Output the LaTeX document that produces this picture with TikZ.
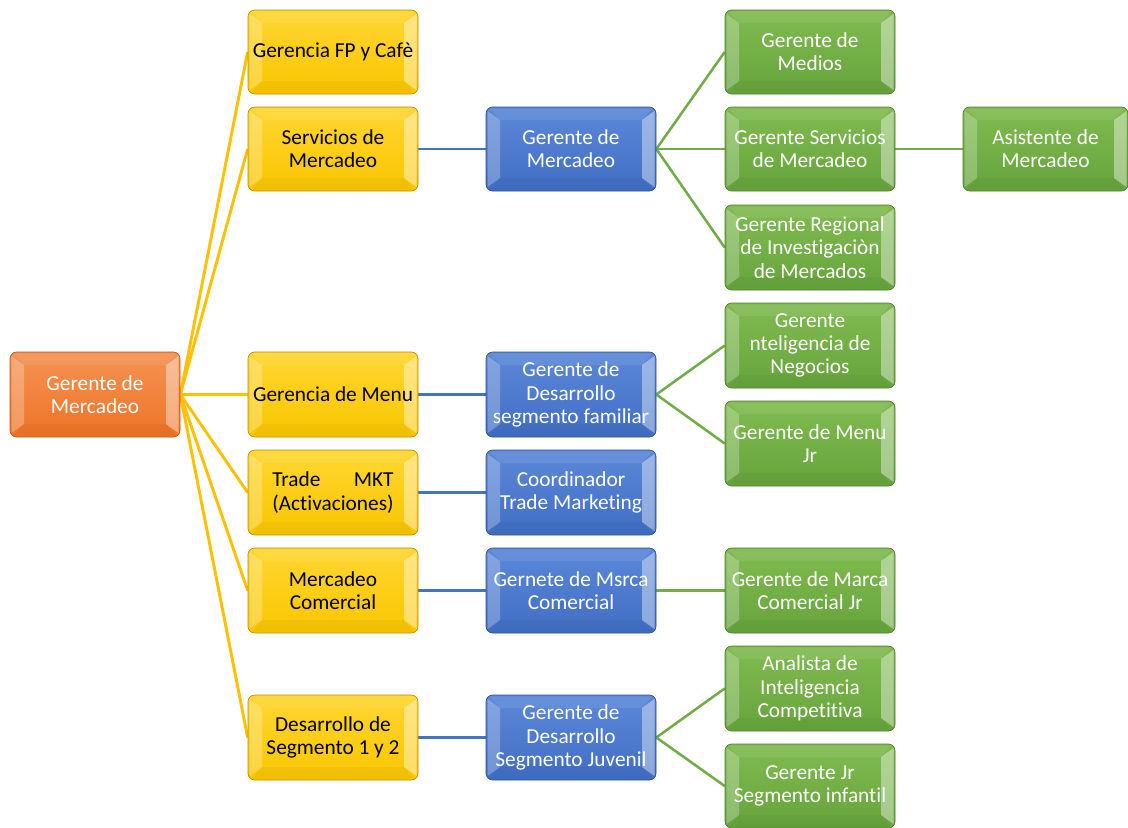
\documentclass[tikz,border=0pt]{standalone}
\usepackage{fontspec}
\usepackage{calc}
\setmainfont{Carlito}[Ligatures={CommonOff}]
\usetikzlibrary{backgrounds}
\definecolor{oTop}{RGB}{245,146,84}
\definecolor{oBot}{RGB}{238,116,38}
\definecolor{oDr}{RGB}{185,84,22}
\definecolor{yTop}{RGB}{255,214,50}
\definecolor{yBot}{RGB}{250,198,0}
\definecolor{yDr}{RGB}{185,140,0}
\definecolor{bTop}{RGB}{92,136,216}
\definecolor{bBot}{RGB}{64,110,196}
\definecolor{bDr}{RGB}{45,80,140}
\definecolor{gTop}{RGB}{128,187,80}
\definecolor{gBot}{RGB}{102,164,60}
\definecolor{gDr}{RGB}{78,122,48}
\definecolor{lnY}{RGB}{255,192,0}
\definecolor{lnB}{RGB}{68,114,196}
\definecolor{lnG}{RGB}{112,173,71}
\tikzset{
  boxshape/.style={rectangle,rounded corners=5pt,line width=0.5pt,inner sep=0pt},
  orangebox/.style={top color=oTop,bottom color=oBot,draw=oDr},
  yellowbox/.style={top color=yTop,bottom color=yBot,draw=yDr},
  bluebox/.style={top color=bTop,bottom color=bBot,draw=bDr},
  greenbox/.style={top color=gTop,bottom color=gBot,draw=gDr},
  boxtext/.style={align=center,inner sep=0pt,font=\fontsize{16}{17.5}\selectfont},
  orangetext/.style={text=white},
  yellowtext/.style={text=black},
  bluetext/.style={text=white},
  greentext/.style={text=white},
  yline/.style={draw=lnY,line width=2.2pt},
  bline/.style={draw=lnB,line width=2.2pt},
  gline/.style={draw=lnG,line width=1.9pt},
}
\newcommand\bbox[7]{%
  \node[boxshape,#6box,minimum width={2*#4*0.75pt},minimum height={2*#5*0.75pt}] (#1) at (#2,#3) {};
  \begin{scope}[shift={(#1.center)}]
    \fill[white,opacity=.25] ({-#4+1.5},{-#5+4}) -- ({-#4+14},{-#5+13}) -- ({-#4+14},{#5-13}) -- ({-#4+1.5},{#5-4}) -- cycle;
    \fill[white,opacity=.40] ({#4-1.5},{-#5+4}) -- ({#4-14},{-#5+13}) -- ({#4-14},{#5-13}) -- ({#4-1.5},{#5-4}) -- cycle;
    \fill[white,opacity=.08] ({-#4+4},{-#5+1.5}) -- ({#4-4},{-#5+1.5}) -- ({#4-14},{-#5+13}) -- ({-#4+14},{-#5+13}) -- cycle;
    \fill[black,opacity=.035] ({-#4+4},{#5-1.5}) -- ({#4-4},{#5-1.5}) -- ({#4-14},{#5-13}) -- ({-#4+14},{#5-13}) -- cycle;
  \end{scope}
  \node[boxtext,#6text] (#1t) at (#1.center) {#7};
}
\begin{document}
\begin{tikzpicture}[x=0.75pt,y=-0.75pt]
\useasboundingbox (0,0) rectangle (1128,828);
% column 1
\bbox{root}{95}{394.5}{85}{42.5}{orange}{Gerente de\\Mercadeo}
% column 2
\bbox{ya}{333}{52}{85}{42}{yellow}{Gerencia FP y Cafè}
\bbox{yb}{333}{149}{85}{42}{yellow}{Servicios de\\Mercadeo}
\bbox{yc}{333}{394.5}{85}{42.5}{yellow}{Gerencia de Menu}
\bbox{yd}{333}{492.5}{85}{42.5}{yellow}{\makebox[\widthof{(Activaciones)}][s]{Trade\hfill MKT}\\(Activaciones)}
\bbox{ye}{333}{590.5}{85}{42.5}{yellow}{Mercadeo\\Comercial}
\bbox{yf}{333}{737.5}{85}{42.5}{yellow}{Desarrollo de\\Segmento 1 y 2}
% column 3
\bbox{bb}{571}{149}{85}{42}{blue}{Gerente de\\Mercadeo}
\bbox{bc}{571}{394.5}{85}{42.5}{blue}{Gerente de\\Desarrollo\\segmento familiar}
\bbox{bd}{571}{492.5}{85}{42.5}{blue}{Coordinador\\Trade Marketing}
\bbox{be}{571}{590.5}{85}{42.5}{blue}{Gernete de Msrca\\Comercial}
\bbox{bf}{571}{737.5}{85}{42.5}{blue}{Gerente de\\Desarrollo\\Segmento Juvenil}
% column 4
\bbox{ga}{810}{52}{85}{42}{green}{Gerente de\\Medios}
\bbox{gb}{810}{149}{85}{42}{green}{Gerente Servicios\\de Mercadeo}
\bbox{gc}{810}{247.5}{85}{42.5}{green}{Gerente Regional\\de Investigaciòn\\de Mercados}
\bbox{gd}{810}{345.5}{85}{42.5}{green}{Gerente\\nteligencia de\\Negocios}
\bbox{ge}{810}{443.5}{85}{42.5}{green}{Gerente de Menu\\Jr}
\bbox{gf}{810}{590.5}{85}{42.5}{green}{Gerente de Marca\\Comercial Jr}
\bbox{gg}{810}{688.5}{85}{42.5}{green}{Analista de\\Inteligencia\\Competitiva}
\bbox{gh}{810}{786}{85}{42}{green}{Gerente Jr\\Segmento infantil}
% column 5
\bbox{asis}{1045.5}{149}{82.5}{42}{green}{Asistente de\\Mercadeo}
% connectors
\begin{scope}[on background layer]
  \foreach \t in {ya,yb,yc,yd,ye,yf} \draw[yline] (root.east) -- (\t.west);
  \draw[bline] (yb.east) -- (bb.west);
  \draw[bline] (yc.east) -- (bc.west);
  \draw[bline] (yd.east) -- (bd.west);
  \draw[bline] (ye.east) -- (be.west);
  \draw[bline] (yf.east) -- (bf.west);
  \foreach \t in {ga,gb,gc} \draw[gline] (bb.east) -- (\t.west);
  \foreach \t in {gd,ge} \draw[gline] (bc.east) -- (\t.west);
  \draw[gline] (be.east) -- (gf.west);
  \foreach \t in {gg,gh} \draw[gline] (bf.east) -- (\t.west);
  \draw[gline] (gb.east) -- (asis.west);
\end{scope}
\end{tikzpicture}
\end{document}
